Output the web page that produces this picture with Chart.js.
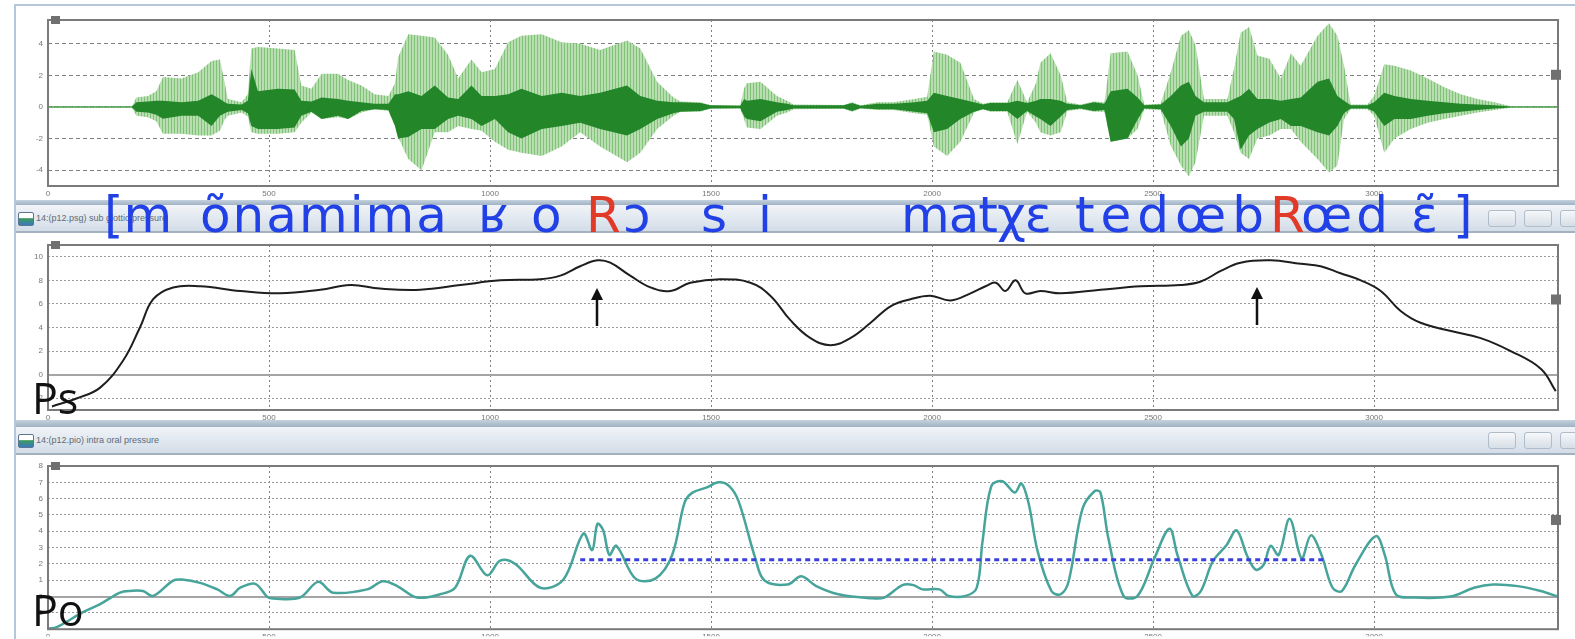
<!DOCTYPE html>
<html>
<head>
<meta charset="utf-8">
<script src="https://cdn.jsdelivr.net/npm/chart.js@4.4.1/dist/chart.umd.min.js"></script>
<style>
  html, body { margin: 0; padding: 0; background: #fff; }
  #stage { position: relative; width: 1575px; height: 639px; overflow: hidden; background: #fff; }
  canvas { position: absolute; left: 0; }
  .frameL { position: absolute; left: 14px; top: 5px; width: 2px; height: 634px; background: #b5c7da; z-index: 3; }
  .frameT { position: absolute; left: 14px; top: 4px; width: 1561px; height: 2px; background: #b5c7da; z-index: 3; }
  .band { position: absolute; left: 14px; width: 1561px; background: linear-gradient(#c5d2de, #9fb1c3); }
  .hdr { position: absolute; left: 14px; width: 1561px; background: linear-gradient(#f1f4f8, #d3dde8); border-bottom: 2px solid #a4b2c0; }
  .hdr .ico { position: absolute; left: 4px; top: 7px; width: 14px; height: 12px; border: 1px solid #5a7690; border-radius: 2px; background: linear-gradient(#ffffff 45%, #3a9a5a 46%, #3a7ac0); }
  .hdr .ttl { position: absolute; left: 22px; top: 8px; font: 9px "Liberation Sans", sans-serif; color: #5d6b78; white-space: nowrap; }
  .hdr .btn { position: absolute; top: 5px; width: 26px; height: 15px; border: 1px solid #b0bcc8; border-radius: 3px; background: linear-gradient(#f6f8fa, #d6dee6); }
  .ipa { position: absolute; font: 50px "DejaVu Sans", sans-serif; line-height: 50px; color: #2141e6; white-space: pre; z-index: 5; }
  .ipa.red { color: #e23a28; }
  .lbl { position: absolute; font: 43px "Open Sans", sans-serif; line-height: 40px; color: #111; z-index: 5; }
  svg.arrow { position: absolute; z-index: 5; overflow: visible; }
</style>
</head>
<body>
<div id="stage">
  <canvas id="waveChart" width="1575" height="195" style="top:5px"></canvas>
  <div class="band" style="top:200px;height:5px"></div>
  <div class="hdr" style="top:205px;height:26px">
    <span class="ico"></span><span class="ttl">14:(p12.psg) sub glottic pressure</span>
    <span class="btn" style="left:1474px"></span><span class="btn" style="left:1510px"></span><span class="btn" style="left:1546px"></span>
  </div>
  <canvas id="psChart" width="1575" height="187" style="top:233px"></canvas>
  <div class="band" style="top:420px;height:7px"></div>
  <div class="hdr" style="top:427px;height:26px">
    <span class="ico"></span><span class="ttl">14:(p12.pio) intra oral pressure</span>
    <span class="btn" style="left:1474px"></span><span class="btn" style="left:1510px"></span><span class="btn" style="left:1546px"></span>
  </div>
  <canvas id="poChart" width="1575" height="184" style="top:455px"></canvas>
  <div class="frameL"></div>
  <div class="frameT"></div>

  <span class="ipa" style="left:104px;top:190px">[m</span>
  <span class="ipa" style="left:200px;top:190px;letter-spacing:2px">õnamima</span>
  <span class="ipa" style="left:478px;top:190px">ʁ</span>
  <span class="ipa" style="left:531px;top:190px">o</span>
  <span class="ipa red" style="left:586px;top:190px">R</span>
  <span class="ipa" style="left:623px;top:190px">ɔ</span>
  <span class="ipa" style="left:701px;top:190px">s</span>
  <span class="ipa" style="left:758px;top:190px">i</span>
  <span class="ipa" style="left:901px;top:190px;letter-spacing:-1px">matχɛ</span>
  <span class="ipa" style="left:1075px;top:190px;letter-spacing:6px">tedœb</span>
  <span class="ipa red" style="left:1270px;top:190px">R</span>
  <span class="ipa" style="left:1301px;top:190px;letter-spacing:4px">œd</span>
  <span class="ipa" style="left:1411px;top:190px">ɛ̃</span>
  <span class="ipa" style="left:1453px;top:190px">]</span>

  <span class="lbl" style="left:32px;top:378px">Ps</span>
  <span class="lbl" style="left:32px;top:590px">Po</span>

  <svg class="arrow" style="left:590px;top:287px" width="14" height="40"><line x1="7" y1="10" x2="7" y2="39" stroke="#111" stroke-width="2.5"/><polygon points="7,1 1,13 13,13" fill="#111"/></svg>
  <svg class="arrow" style="left:1250px;top:286px" width="14" height="40"><line x1="7" y1="10" x2="7" y2="39" stroke="#111" stroke-width="2.5"/><polygon points="7,1 1,13 13,13" fill="#111"/></svg>
</div>

<script>
// time axis (ms)
const X_MAX = 3416;
const xTicks = [0, 500, 1000, 1500, 2000, 2500, 3000];

// panel 1: speech waveform envelopes (light = outer, dark = core)
const waveMs = [0, 190, 200, 226, 245, 260, 302, 340, 370, 389, 400, 407, 438, 452, 460, 475, 520, 558, 573, 596,
  619, 656, 679, 709, 739, 770, 785, 792, 815, 845, 875, 905, 928, 958, 981, 1011, 1041, 1071, 1117, 1162,
  1204, 1249, 1310, 1340, 1378, 1415, 1431, 1476, 1498, 1566, 1575, 1581, 1612, 1649, 1672, 1687, 1800, 1819, 1838, 1876,
  1913, 1960, 1989, 2004, 2034, 2064, 2095, 2115, 2132, 2170, 2193, 2215, 2235, 2245, 2268, 2291, 2306, 2336, 2366, 2390,
  2404, 2442, 2465, 2480, 2517, 2540, 2563, 2581, 2596, 2615, 2668, 2683, 2698, 2717, 2736, 2763, 2789, 2812, 2834, 2872,
  2898, 2917, 2932, 2947, 2985, 3000, 3023, 3046, 3083, 3121, 3159, 3196, 3234, 3272, 3310, 3416];
const waveLightTop = [.05, .05, .6, .7, 1.0, 1.9, 1.8, 2.2, 2.9, 3.0, 1.5, .5, .3, .8, 3.7, 3.8, 3.7, 3.6, 1.35, 1.15,
  2.1, 2.1, 1.7, 1.35, .8, .7, 1.5, 3.15, 4.6, 4.5, 4.4, 3.3, 1.8, 3.0, 2.2, 2.4, 4.1, 4.5, 4.6, 4.1,
  4.0, 3.6, 4.2, 3.7, 1.6, .6, .35, .3, .12, .1, 1.2, 1.5, 1.6, .7, .4, .15, .12, .3, .1, .3,
  .3, .5, .65, 3.5, 3.3, 2.8, .5, .2, .3, .3, 1.7, .3, 1.5, 2.8, 3.4, 2.0, .3, .15, .35, .3,
  3.4, 3.5, 2.0, .15, .2, 2.2, 4.5, 4.85, 3.9, .5, .5, 2.4, 4.7, 5.05, 3.25, 3.05, 1.8, 3.4, 2.6, 4.5,
  5.3, 4.5, 2.6, .15, .15, .7, 2.7, 2.6, 2.3, 1.8, 1.25, .8, .5, .3, .05, .05];
const waveLightBot = [-.05, -.05, -.55, -.65, -.9, -1.7, -1.7, -1.8, -1.8, -1.5, -.8, -.55, -.35, -.6, -1.6, -1.7, -1.7, -1.6, -1.0, -.35,
  -.76, -.65, -.76, -.35, -.15, -.25, -1.2, -1.9, -3.3, -4.0, -1.6, -1.6, -1.2, -1.4, -1.5, -2.2, -2.7, -2.9, -3.1, -2.5,
  -1.6, -2.5, -3.5, -2.9, -1.4, -.55, -.3, -.3, -.12, -.1, -.8, -1.3, -1.4, -.55, -.35, -.15, -.12, -.3, -.1, -.2,
  -.2, -.4, -.5, -2.5, -3.1, -2.2, -.35, -.15, -.3, -.3, -2.35, -.3, -1.0, -1.6, -1.8, -1.6, -.25, -.15, -.3, -.3,
  -2.2, -2.0, -1.4, -.15, -.2, -2.45, -3.7, -4.4, -3.5, -.55, -.55, -1.6, -2.9, -3.3, -2.0, -1.8, -1.4, -1.4, -2.2, -3.3,
  -4.15, -3.7, -.76, -.15, -.15, -.55, -2.9, -2.0, -1.4, -1.0, -.76, -.55, -.35, -.2, -.05, -.05];
const waveDarkTop = [.03, .03, .3, .35, .4, .4, .3, .4, .8, .5, .3, .2, .15, .4, 2.4, 1.0, 1.15, 1.1, .4, .35,
  .6, .5, .4, .3, .2, .2, .8, .8, 1.0, .7, 1.35, .6, .5, 1.35, .7, .7, .8, 1.15, .7, .9,
  .7, .9, 1.35, .7, .4, .3, .3, .25, .1, .08, .5, .4, .5, .3, .2, .1, .1, .25, .08, .2,
  .2, .3, .4, .9, .7, .5, .3, .15, .25, .25, .4, .25, .4, .5, .5, .4, .2, .1, .3, .2,
  1.0, 1.15, .6, .1, .15, .7, 1.35, 1.6, .7, .3, .3, .5, .7, 1.15, .5, .5, .4, .5, .6, 1.6,
  1.8, .7, .4, .1, .1, .3, .9, .7, .5, .4, .3, .2, .15, .1, .03, .03];
const waveDarkBot = [-.03, -.03, -.3, -.35, -.5, -.75, -.55, -.55, -1.2, -.55, -.4, -.3, -.2, -.4, -1.2, -1.4, -1.4, -1.3, -.55, -.3,
  -.76, -.55, -.76, -.25, -.15, -.2, -1.2, -2.0, -1.9, -1.4, -1.4, -.76, -.55, -.76, -1.2, -.76, -1.6, -2.0, -1.4, -1.2,
  -1.0, -1.4, -1.8, -1.4, -.76, -.4, -.3, -.25, -.1, -.08, -.6, -.76, -.9, -.3, -.2, -.1, -.1, -.25, -.08, -.15,
  -.15, -.3, -.4, -1.6, -1.4, -.76, -.3, -.15, -.25, -.25, -.76, -.25, -.6, -.76, -1.2, -.6, -.2, -.1, -.25, -.2,
  -2.2, -2.0, -.8, -.1, -.15, -1.2, -2.5, -2.0, -.55, -.3, -.3, -.76, -2.7, -1.8, -1.4, -.98, -.76, -1.2, -1.2, -1.6,
  -1.8, -1.2, -.4, -.1, -.1, -.3, -1.2, -.76, -.76, -.55, -.4, -.3, -.2, -.1, -.03, -.03];
const waveTicks = [-4, -2, 0, 2, 4];

// panel 2: subglottic pressure
const psMs = [9, 66, 118, 170, 208, 238, 283, 344, 435, 525, 616, 684, 751, 842, 933, 1023, 1114, 1159, 1204, 1243,
  1272, 1317, 1363, 1408, 1453, 1521, 1589, 1634, 1680, 1725, 1770, 1815, 1861, 1906, 1951, 1996, 2042, 2087, 2121, 2144,
  2166, 2189, 2211, 2245, 2291, 2381, 2472, 2562, 2608, 2653, 2698, 2766, 2834, 2879, 2924, 2970, 3015, 3060, 3105, 3174,
  3241, 3309, 3377, 3411];
const psVal = [-2.7, -2.0, -1.1, 1.2, 4.0, 6.4, 7.4, 7.5, 7.1, 6.9, 7.2, 7.6, 7.3, 7.2, 7.6, 8.0, 8.1, 8.4, 9.2, 9.7,
  9.5, 8.4, 7.4, 7.1, 7.8, 8.1, 7.8, 6.7, 4.6, 3.1, 2.5, 3.1, 4.4, 5.8, 6.4, 6.7, 6.3, 6.9, 7.5, 7.8,
  7.1, 8.0, 6.9, 7.1, 6.9, 7.2, 7.5, 7.6, 7.9, 8.8, 9.5, 9.7, 9.4, 9.2, 8.6, 8.0, 7.1, 5.4, 4.4, 3.7,
  3.1, 2.0, 0.5, -1.4];
const psTicks = [-2, 0, 2, 4, 6, 8, 10];

// panel 3: intra oral pressure
const poMs = [0, 20, 79, 118, 163, 186, 215, 238, 283, 303, 344, 383, 412, 435, 469, 496, 509, 570, 611, 645,
  722, 758, 790, 835, 887, 921, 955, 994, 1023, 1057, 1114, 1166, 1211, 1231, 1243, 1256, 1270, 1286, 1329, 1374,
  1412, 1440, 1458, 1489, 1517, 1541, 1562, 1600, 1621, 1673, 1704, 1738, 1788, 1861, 1892, 1933, 1958, 1978, 2017, 2037,
  2076, 2101, 2114, 2134, 2159, 2187, 2202, 2218, 2239, 2270, 2291, 2309, 2340, 2368, 2381, 2399, 2433, 2465, 2503, 2537,
  2555, 2589, 2608, 2635, 2666, 2689, 2712, 2732, 2750, 2766, 2784, 2809, 2836, 2857, 2881, 2906, 2927, 2958, 3004, 3024,
  3049, 3090, 3173, 3226, 3269, 3325, 3377, 3416];
const poVal = [-1.97, -1.87, -0.96, -0.46, 0.24, 0.34, 0.34, 0.04, 0.98, 1.04, 0.84, 0.44, 0.04, 0.54, 0.78, -0.02, -0.12, -0.06, 0.9, 0.24,
  0.44, 0.94, 0.64, -0.06, 0.14, 0.54, 2.5, 1.3, 2.2, 2.0, 0.54, 1.04, 3.86, 2.85, 4.46, 4.06, 2.55, 3.11, 1.1, 1.1,
  2.55, 5.76, 6.37, 6.67, 7.0, 6.77, 5.86, 2.35, 0.98, 0.74, 1.24, 0.64, 0.14, -0.1, -0.06, 0.7, 0.7, 0.44, 0.44, 0.04,
  0.04, 0.54, 3.35, 6.77, 7.07, 6.37, 6.93, 5.76, 2.75, 0.34, 0.14, 0.94, 5.36, 6.47, 6.37, 3.55, 0.04, 0.04, 2.35, 4.16,
  2.55, 0.04, 0.34, 2.15, 3.15, 4.06, 2.55, 1.65, 1.95, 3.11, 2.55, 4.76, 2.35, 3.75, 2.55, 0.54, 0.34, 1.95, 3.7, 2.55,
  0.14, -0.06, 0, 0.54, 0.74, 0.64, 0.34, 0];
const poRefMs = [1204, 2893];
const poRefVal = [2.25, 2.25];
const poTicks = [-1, 0, 1, 2, 3, 4, 5, 6, 7, 8];

const pts = (xs, ys) => xs.map((x, i) => ({ x, y: ys[i] }));
const tickFont = { family: 'Liberation Sans', size: 8 };

function stripes() {
  const c = document.createElement('canvas');
  c.width = 3; c.height = 1;
  const g = c.getContext('2d');
  g.fillStyle = '#b8deb2'; g.fillRect(0, 0, 3, 1);
  g.fillStyle = '#7fc278'; g.fillRect(0, 0, 1, 1);
  return g.createPattern(c, 'repeat');
}

const framePlugin = {
  id: 'frame',
  afterDraw(chart, args, opts) {
    const { ctx, chartArea: a } = chart;
    ctx.save();
    ctx.strokeStyle = '#7a7a7a';
    ctx.lineWidth = 2;
    ctx.strokeRect(a.left, a.top, a.width, a.height);
    ctx.fillStyle = '#707070';
    ctx.fillRect(a.left + 3, a.top - 4, 9, 8);
    ctx.fillRect(a.right - 7, a.top + a.height * opts.handle, 10, 10);
    ctx.restore();
  }
};

function makeChart(id, cfg) {
  const canvas = document.getElementById(id);
  return new Chart(canvas, {
    type: 'line',
    data: { datasets: cfg.datasets },
    plugins: [framePlugin],
    options: {
      responsive: false,
      animation: false,
      events: [],
      layout: { padding: { top: cfg.padTop, right: 17, left: 0, bottom: 0 } },
      elements: { point: { radius: 0 } },
      plugins: { legend: { display: false }, tooltip: { enabled: false }, frame: { handle: cfg.handle } },
      scales: {
        x: {
          type: 'linear', min: 0, max: X_MAX,
          afterBuildTicks: s => { s.ticks = xTicks.map(v => ({ value: v })); },
          afterFit: s => { s.height = cfg.xHeight; },
          ticks: { font: tickFont, color: '#777', padding: 3, maxRotation: 0, autoSkip: false, callback: v => String(v) },
          grid: { color: '#7f7f7f', lineWidth: 1, drawTicks: false },
          border: { display: false, dash: [2, 3] }
        },
        y: {
          min: cfg.yMin, max: cfg.yMax,
          afterBuildTicks: s => { s.ticks = cfg.yTicks.map(v => ({ value: v })); },
          afterFit: s => { s.width = 48; },
          ticks: { font: tickFont, color: '#777', padding: 5, autoSkip: false, callback: v => String(v) },
          grid: {
            drawTicks: false,
            color: c => (cfg.zeroSolid && c.tick && c.tick.value === 0) ? '#a5a5a5' : cfg.gridColor,
            lineWidth: c => (cfg.zeroSolid && c.tick && c.tick.value === 0) ? 2 : 1
          },
          border: { display: false, dash: c => (cfg.zeroSolid && c.tick && c.tick.value === 0) ? [] : cfg.yDash }
        }
      }
    }
  });
}

makeChart('waveChart', {
  padTop: 15, xHeight: 14, yMin: -5, yMax: 5.5, yTicks: waveTicks, handle: 0.3,
  gridColor: '#808080', yDash: [4, 3], zeroSolid: false,
  datasets: [
    { data: pts(waveMs, waveDarkTop), borderWidth: 0, tension: 0, fill: '+1', backgroundColor: '#23872a' },
    { data: pts(waveMs, waveDarkBot), borderWidth: 0, tension: 0, fill: false },
    { data: pts(waveMs, waveLightTop), borderWidth: 0, tension: 0, fill: '+1', backgroundColor: stripes() },
    { data: pts(waveMs, waveLightBot), borderWidth: 0, tension: 0, fill: false }
  ]
});

makeChart('psChart', {
  padTop: 12, xHeight: 10, yMin: -3, yMax: 11, yTicks: psTicks, handle: 0.3,
  gridColor: '#9a9a9a', yDash: [2, 2], zeroSolid: true,
  datasets: [
    { data: pts(psMs, psVal), borderColor: '#1e1e1e', borderWidth: 2, tension: 0.4, fill: false }
  ]
});

makeChart('poChart', {
  padTop: 11, xHeight: 7, yMin: -2, yMax: 8, yTicks: poTicks, handle: 0.3,
  gridColor: '#9a9a9a', yDash: [2, 2], zeroSolid: true,
  datasets: [
    { data: pts(poRefMs, poRefVal), borderColor: '#3b3fdc', borderWidth: 3, borderDash: [5, 4], fill: false },
    { data: pts(poMs, poVal), borderColor: '#46a49b', borderWidth: 2.5, tension: 0.35, fill: false }
  ]
});
</script>
</body>
</html>
